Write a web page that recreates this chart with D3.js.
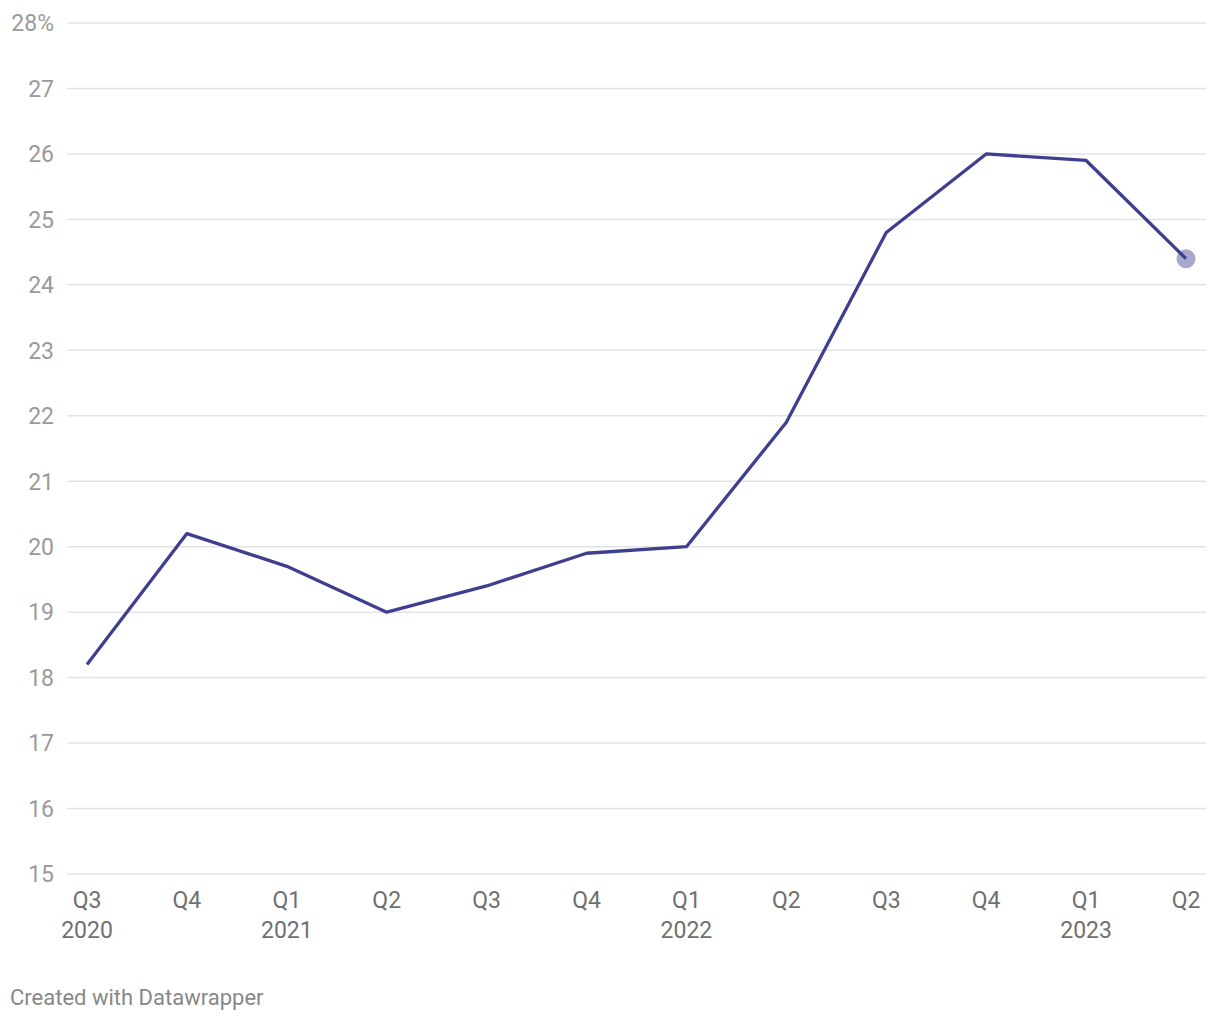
<!DOCTYPE html>
<html>
<head>
<meta charset="utf-8">
<script src="https://cdn.jsdelivr.net/npm/d3@7"></script>
<style>
  body { margin: 0; background: #fff; font-family: Roboto, sans-serif; }
</style>
</head>
<body>
<div id="chart"></div>
<script>
var quarters = ["Q3", "Q4", "Q1", "Q2", "Q3", "Q4", "Q1", "Q2", "Q3", "Q4", "Q1", "Q2"];
var years = ["2020", "", "2021", "", "", "", "2022", "", "", "", "2023", ""];
var values = [18.2, 20.2, 19.7, 19.0, 19.4, 19.9, 20.0, 21.9, 24.8, 26.0, 25.9, 24.4];
var yTicks = [15, 16, 17, 18, 19, 20, 21, 22, 23, 24, 25, 26, 27, 28];

var width = 1220, height = 1020;

var svg = d3.select("#chart")
    .append("svg")
    .attr("width", width)
    .attr("height", height);

var x = d3.scalePoint()
    .domain(d3.range(values.length))
    .range([87, 1186]);

var y = d3.scaleLinear()
    .domain([15, 28])
    .range([874, 23]);

// gridlines
svg.selectAll(".grid")
    .data(yTicks)
    .enter().append("line")
      .attr("x1", 67)
      .attr("x2", 1206)
      .attr("y1", function(d) { return y(d); })
      .attr("y2", function(d) { return y(d); })
      .attr("stroke", "#e3e3e3")
      .attr("stroke-width", 1.5);

// y labels
svg.selectAll(".ylab")
    .data(yTicks)
    .enter().append("text")
      .attr("x", 54)
      .attr("y", function(d) { return y(d); })
      .attr("dy", "0.36em")
      .attr("text-anchor", "end")
      .attr("font-size", 23)
      .attr("fill", "#9a9a9a")
      .text(function(d) { return d === 28 ? d + "%" : d; });

// x labels
var xl = svg.selectAll(".xlab")
    .data(quarters)
    .enter().append("text")
      .attr("text-anchor", "middle")
      .attr("font-size", 23)
      .attr("fill", "#707070");

xl.append("tspan")
    .attr("x", function(d, i) { return x(i); })
    .attr("y", 908)
    .text(function(d) { return d; });

xl.append("tspan")
    .attr("x", function(d, i) { return x(i); })
    .attr("y", 938)
    .text(function(d, i) { return years[i]; });

var line = d3.line()
    .x(function(d, i) { return x(i); })
    .y(function(d) { return y(d); });

svg.append("path")
    .datum(values)
    .attr("d", line)
    .attr("fill", "none")
    .attr("stroke", "#3f3f8f")
    .attr("stroke-width", 3.3)
    .attr("stroke-linejoin", "round");

var last = values.length - 1;
svg.append("circle")
    .attr("cx", x(last))
    .attr("cy", y(values[last]))
    .attr("r", 9.5)
    .attr("fill", "#3f3f8f")
    .attr("fill-opacity", 0.45);

svg.append("text")
    .attr("x", 10)
    .attr("y", 1005)
    .attr("font-size", 22)
    .attr("fill", "#888")
    .text("Created with Datawrapper");
</script>
</body>
</html>
